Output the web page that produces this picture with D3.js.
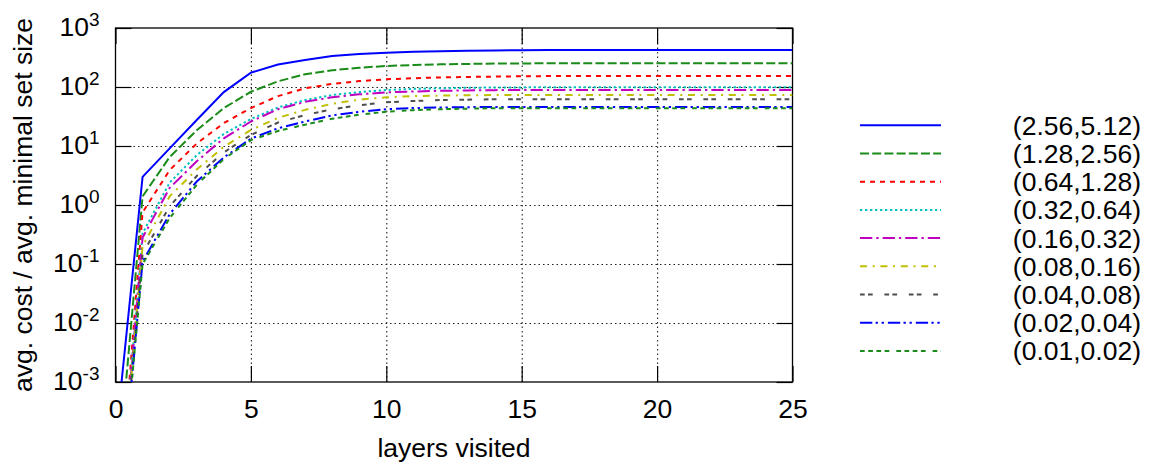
<!DOCTYPE html>
<html>
<head>
  <meta charset="utf-8">
  <title>avg. cost per layer</title>
  <style>
    body { margin: 0; background: #fff; }
    text { font-family: "Liberation Sans", Arial, Helvetica, sans-serif; fill: #000; }
  </style>
</head>
<body>
  <script src="https://cdnjs.cloudflare.com/ajax/libs/d3/7.8.5/d3.min.js"></script>
  <script type="text/javascript">

// layers visited
var layers = [0, 1, 2, 3, 4, 5, 6, 7, 8, 9, 10, 11, 12, 13, 14, 15, 16, 17, 18, 19, 20, 21, 22, 23, 24, 25];

var seriesNames = ["(2.56,5.12)", "(1.28,2.56)", "(0.64,1.28)", "(0.32,0.64)", "(0.16,0.32)",
                   "(0.08,0.16)", "(0.04,0.08)", "(0.02,0.04)", "(0.01,0.02)"];

var s256 = [1e-4, 3.0, 9.1, 27.6, 82, 175, 240, 287, 335, 362, 381, 395, 405, 412, 417, 420, 422, 423, 424, 424, 424, 424, 424, 424, 424, 424];
var s128 = [1e-5, 1.4, 6.5, 18.5, 44, 83, 125, 164, 192, 212, 227, 236, 242, 246, 249, 251, 252, 252, 253, 253, 253, 253, 253, 253, 253, 253];
var s064 = [1e-6, 0.75, 3.9, 11, 24.5, 44, 70, 95, 113, 126, 135, 141, 145, 148, 150, 152, 153, 153, 154, 154, 154, 154, 154, 154, 154, 154];
var s032 = [1e-6, 0.33, 2.4, 7, 16, 28.7, 45, 60, 73, 82, 89, 93, 95, 97, 98, 98.5, 99, 99, 99, 99, 99, 99, 99, 99, 99, 99];
var s016 = [1e-6, 0.28, 1.95, 5.5, 13.5, 26, 42, 56, 67, 75, 81, 84, 86, 87.5, 88.5, 89, 89, 89, 89, 89, 89, 89, 89, 89, 89, 89];
var s008 = [1e-6, 0.2, 1.4, 4.0, 9.7, 18.7, 30, 41, 52, 61, 67, 70, 71.5, 72.5, 73, 73, 73, 73, 73, 73, 73, 73, 73, 73, 73, 73];
var s004 = [1e-6, 0.15, 0.95, 3.1, 7.8, 15.4, 25, 33.5, 42, 49, 55, 58, 60, 61, 62, 62, 62, 62, 62, 62, 62, 62, 62, 62, 62, 62];
var s002 = [1e-6, 0.11, 0.7, 2.5, 6.4, 13.3, 20, 26, 33, 38, 42, 44, 45, 45.5, 46, 46, 46, 46, 46, 46, 46, 46, 46, 46, 46, 46];
var s001 = [1e-6, 0.1, 0.6, 2.2, 6.0, 12.6, 18, 23, 29, 34, 38, 40.5, 42, 43, 43.6, 43.6, 43.6, 43.6, 43.6, 43.6, 43.6, 43.6, 43.6, 43.6, 43.6, 43.6];

var xTicks = [0, 5, 10, 15, 20, 25];
var yTicks = [1e-3, 1e-2, 1e-1, 1e0, 1e1, 1e2, 1e3];

var allSeries = [s256, s128, s064, s032, s016, s008, s004, s002, s001];
var colors = ["#0000ff", "#1a8c1a", "#ff0000", "#00c0c0", "#c000c0", "#c0c000", "#4d4d4d", "#0000ff", "#1a8c1a"];
var dashes = ["none", "9,3.2", "5,5", "2.3,2.7", "12.3,4,2.3,4", "7,5.7,2,5.7",
              "4.7,3.3,4.7,11.7", "12.3,3.3,2.3,3.7,2.3,4", "4.7,3.5,4.7,3.5,4.7,3.5,4.7,7"];

var margin = {top: 28, right: 357.5, bottom: 84, left: 115.5},
    width  = 1150 - margin.left - margin.right,
    height = 466 - margin.top - margin.bottom;

var svg = d3.select("body")
    .append("svg")
    .attr("width", 1150)
    .attr("height", 466);

var chart = svg.append("g")
    .attr("transform", "translate(" + margin.left + "," + margin.top + ")");

var xScale = d3.scaleLinear()
    .domain([0, 25])
    .range([0, width]);

var yScale = d3.scaleLog()
    .domain([1e-3, 1e3])
    .range([height, 0]);

// dotted grid
chart.append("g")
    .attr("class", "grid")
    .attr("transform", "translate(0," + height + ")")
    .call(d3.axisBottom(xScale).tickValues(xTicks.slice(1, -1)).tickSize(-height).tickFormat(""));

chart.append("g")
    .attr("class", "grid")
    .call(d3.axisLeft(yScale).tickValues(yTicks.slice(1, -1)).tickSize(-width).tickFormat(""));

chart.selectAll(".grid .domain").remove();
chart.selectAll(".grid line")
    .attr("stroke", "#222")
    .attr("stroke-width", 1.1)
    .attr("stroke-dasharray", "1.5,3");

// axes with inward ticks
var xAxis = chart.append("g")
    .attr("transform", "translate(0," + height + ")")
    .call(d3.axisBottom(xScale).tickValues(xTicks).tickSizeInner(-16).tickSizeOuter(0).tickPadding(17));

chart.append("g")
    .call(d3.axisTop(xScale).tickValues(xTicks).tickSizeInner(-16).tickSizeOuter(0).tickFormat(""));

var yAxis = chart.append("g")
    .call(d3.axisLeft(yScale).tickValues(yTicks).tickSizeInner(-16).tickSizeOuter(0).tickPadding(16));

chart.append("g")
    .attr("transform", "translate(" + width + ",0)")
    .call(d3.axisRight(yScale).tickValues(yTicks).tickSizeInner(-16).tickSizeOuter(0).tickFormat(""));

chart.selectAll(".domain").remove();
chart.selectAll(".tick line").filter(function(){ return this.parentNode.parentNode.getAttribute("class") !== "grid"; })
    .attr("stroke", "#000")
    .attr("stroke-width", 1.2);

xAxis.selectAll("text")
    .attr("font-size", 26.5)
    .attr("font-family", "Liberation Sans, Arial, sans-serif");

yAxis.selectAll("text")
    .attr("font-size", 26.5)
    .attr("font-family", "Liberation Sans, Arial, sans-serif")
    .attr("dy", "0.3em")
    .each(function(d){
        var t = d3.select(this);
        var e = Math.round(Math.log10(d));
        t.text("");
        t.append("tspan").text("10");
        t.append("tspan").attr("font-size", 19).attr("dy", "-0.55em").text(String(e));
    });

// border
chart.append("rect")
    .attr("width", width)
    .attr("height", height)
    .attr("fill", "none")
    .attr("stroke", "#000")
    .attr("stroke-width", 1.3);

// lines
svg.append("clipPath")
    .attr("id", "plotclip")
    .append("rect")
    .attr("width", width)
    .attr("height", height);

var line = d3.line()
    .x(function(d, i){ return xScale(layers[i]); })
    .y(function(d){ return yScale(d); });

chart.append("g")
    .attr("clip-path", "url(#plotclip)")
    .selectAll("path")
    .data(allSeries)
    .enter()
    .append("path")
    .attr("d", line)
    .attr("fill", "none")
    .attr("stroke", function(d, i){ return colors[i]; })
    .attr("stroke-width", 2)
    .attr("stroke-dasharray", function(d, i){ return dashes[i]; });

// legend
var legend = svg.append("g")
    .selectAll("g")
    .data(seriesNames)
    .enter()
    .append("g")
    .attr("transform", function(d, i){ return "translate(0," + (125.3 + i * 28.2) + ")"; });

legend.append("line")
    .attr("x1", 860)
    .attr("x2", 941)
    .attr("stroke", function(d, i){ return colors[i]; })
    .attr("stroke-width", 2)
    .attr("stroke-dasharray", function(d, i){ return dashes[i]; });

legend.append("text")
    .attr("x", 1141)
    .attr("y", 9.5)
    .attr("text-anchor", "end")
    .attr("font-size", 26.5)
    .text(function(d){ return d; });

// axis titles
svg.append("text")
    .attr("x", margin.left + width / 2)
    .attr("y", 457)
    .attr("text-anchor", "middle")
    .attr("font-size", 26.5)
    .text("layers visited");

svg.append("text")
    .attr("transform", "translate(32," + (margin.top + height / 2) + ") rotate(-90)")
    .attr("text-anchor", "middle")
    .attr("font-size", 26.5)
    .text("avg. cost / avg. minimal set size");

  </script>
</body>
</html>
